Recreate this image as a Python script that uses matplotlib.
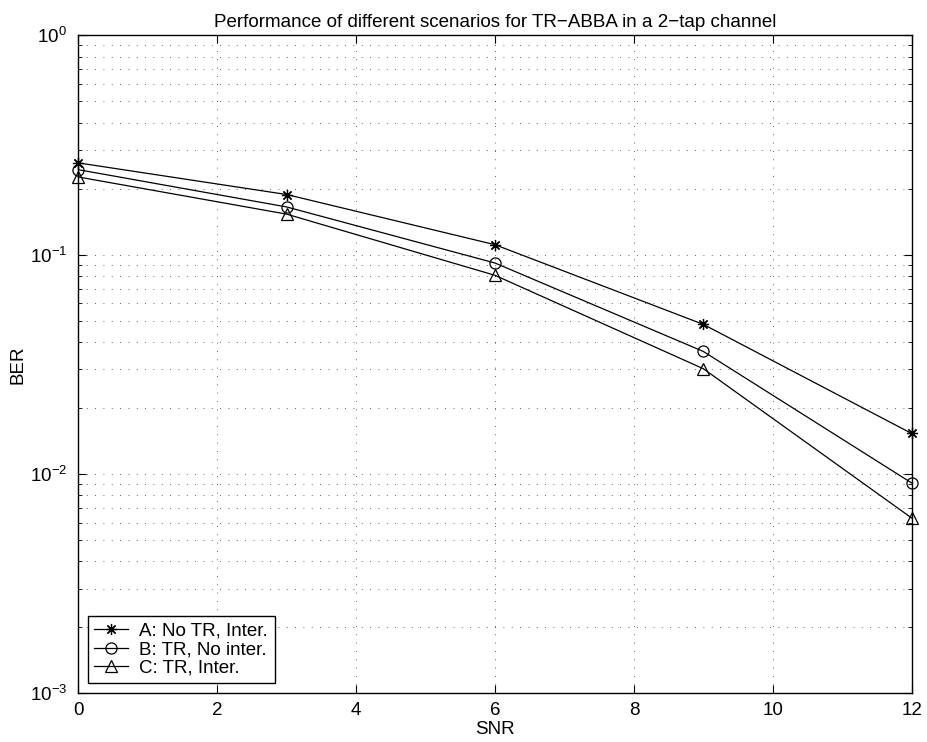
import matplotlib
matplotlib.use('Agg')
import matplotlib.pyplot as plt
from matplotlib.ticker import LogLocator, FixedLocator, NullFormatter

plt.rcParams['font.family'] = ['Liberation Sans', 'DejaVu Sans']
plt.rcParams['mathtext.default'] = 'regular'
plt.rcParams['font.size'] = 13.5

# SNR points and BER for each scenario
snr = [0, 3, 6, 9, 12]
ber_a = [0.262, 0.188, 0.111, 0.0481, 0.0153]
ber_b = [0.244, 0.165, 0.0916, 0.0362, 0.0091]
ber_c = [0.226, 0.153, 0.0805, 0.0302, 0.0063]

labels = ['A: No TR, Inter.', 'B: TR, No inter.', 'C: TR, Inter.']
title = 'Performance of different scenarios for TR\u2212ABBA in a 2\u2212tap channel'

fig = plt.figure(figsize=(9.28, 7.42), dpi=100)
ax = fig.add_axes([0.0844, 0.0656, 0.898, 0.8868])

# 8-armed asterisk like the classic '*' marker
asterisk = (8, 2, 0)
style = dict(color='k', lw=0.9, ms=8, mew=0.9, clip_on=False)
ax.semilogy(snr, ber_a, marker=asterisk, label=labels[0], **style)
ax.semilogy(snr, ber_b, marker='o', mfc='none', label=labels[1], **style)
ax.semilogy(snr, ber_c, marker='^', mfc='none', label=labels[2], **style)

ax.set_xlim(0, 12)
ax.set_ylim(1e-3, 1)
ax.xaxis.set_major_locator(FixedLocator(range(0, 13, 2)))
ax.yaxis.set_major_locator(LogLocator(base=10, numticks=10))
ax.yaxis.set_minor_locator(LogLocator(base=10, subs=range(2, 10), numticks=10))
ax.yaxis.set_minor_formatter(NullFormatter())

dots = (0, (1, 9))
ax.grid(True, which='major', linestyle=dots, color='k', lw=0.6, alpha=0.8)
ax.grid(True, which='minor', axis='y', linestyle=dots, color='k', lw=0.6, alpha=0.8)
ax.tick_params(which='both', direction='in', top=True, right=True, labelsize=13.5)
ax.tick_params(which='major', length=6)
ax.tick_params(which='minor', length=3)
ax.tick_params(axis='y', which='major', pad=8)
ax.tick_params(axis='x', which='major', pad=6)
for s in ax.spines.values():
    s.set_linewidth(1.0)

ax.set_xlabel('SNR', fontsize=13.5, labelpad=2)
ax.set_ylabel('BER', fontsize=13.5, labelpad=2)
ax.set_title(title, fontsize=13.5, pad=6)

leg = ax.legend(loc='lower left', bbox_to_anchor=(0.0113, 0.0152), fancybox=False,
                framealpha=1, edgecolor='k', fontsize=13.5, handlelength=1.8,
                borderpad=0.35, labelspacing=0.08, handletextpad=0.6,
                borderaxespad=0)
leg.get_frame().set_linewidth(1.0)

fig.savefig('out.png', dpi=100)
